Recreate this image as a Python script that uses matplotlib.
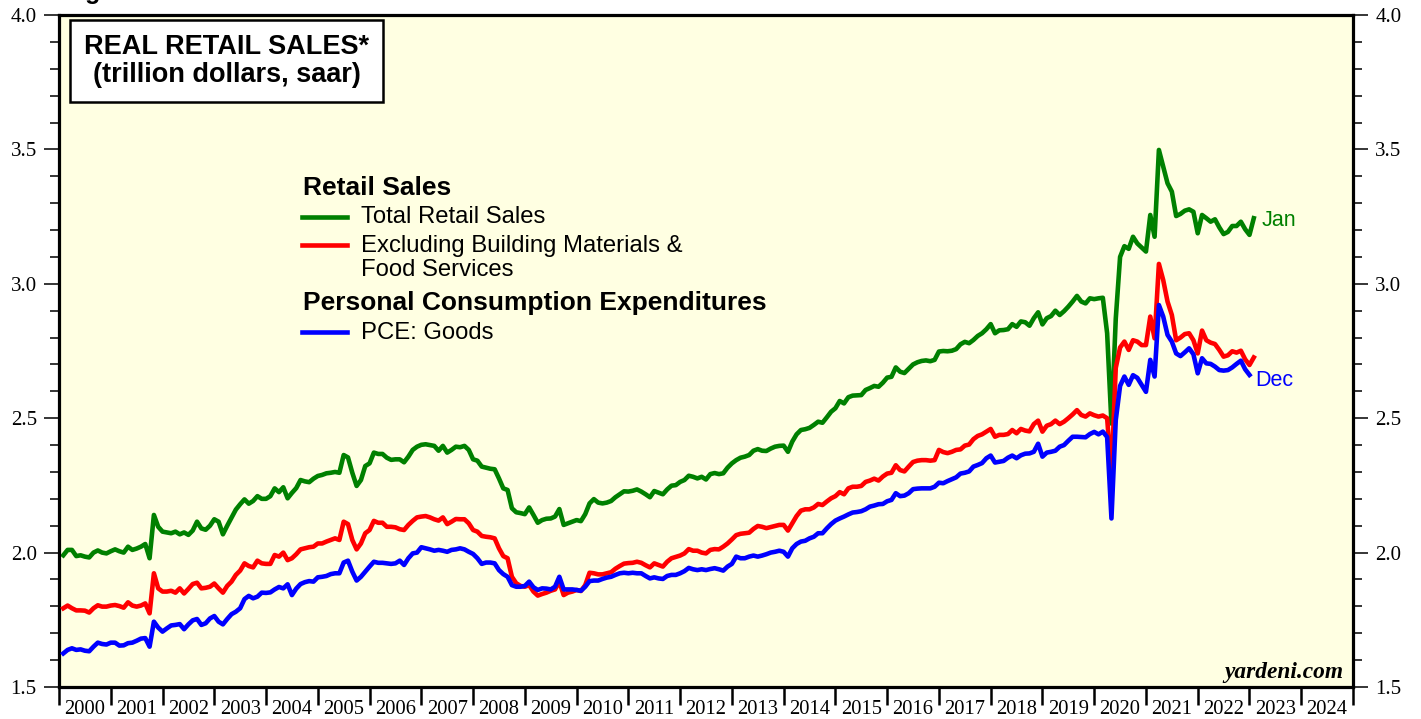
import matplotlib
matplotlib.use('Agg')
import matplotlib.pyplot as plt
from matplotlib.ticker import MultipleLocator, FixedLocator, NullFormatter, FormatStrFormatter
from matplotlib.patches import Rectangle
from matplotlib.lines import Line2D

plt.rcParams['font.family'] = ['Liberation Serif', 'DejaVu Serif']

# ---------------- data (trillion dollars, saar), monthly from Jan 2000 ----------------
start_year = 2000
year_labels = [str(y) for y in range(2000, 2025)]

total_retail = [
    1.990, 2.010, 2.010, 1.987, 1.990, 1.985, 1.982, 2.000, 2.008, 2.000, 1.997, 2.005,  # 2000
    2.012, 2.005, 2.000, 2.022, 2.010, 2.015, 2.022, 2.032, 1.979, 2.140, 2.096, 2.078,  # 2001
    2.075, 2.072, 2.078, 2.068, 2.075, 2.066, 2.082, 2.115, 2.090, 2.085, 2.100, 2.124,  # 2002
    2.115, 2.068, 2.100, 2.130, 2.160, 2.180, 2.198, 2.182, 2.192, 2.210, 2.200, 2.200,  # 2003
    2.210, 2.239, 2.225, 2.243, 2.202, 2.222, 2.240, 2.270, 2.265, 2.262, 2.275, 2.285,  # 2004
    2.289, 2.295, 2.297, 2.300, 2.297, 2.363, 2.354, 2.297, 2.248, 2.270, 2.322, 2.332,  # 2005
    2.372, 2.367, 2.367, 2.353, 2.345, 2.347, 2.347, 2.336, 2.357, 2.382, 2.394, 2.401,  # 2006
    2.403, 2.400, 2.397, 2.379, 2.397, 2.372, 2.382, 2.394, 2.392, 2.397, 2.382, 2.347,  # 2007
    2.342, 2.320, 2.316, 2.312, 2.310, 2.276, 2.239, 2.233, 2.165, 2.150, 2.147, 2.143,  # 2008
    2.168, 2.140, 2.111, 2.121, 2.126, 2.127, 2.134, 2.162, 2.103, 2.109, 2.115, 2.121,  # 2009
    2.117, 2.143, 2.183, 2.199, 2.186, 2.183, 2.186, 2.192, 2.206, 2.217, 2.228, 2.227,  # 2010
    2.230, 2.235, 2.227, 2.217, 2.206, 2.229, 2.223, 2.217, 2.235, 2.249, 2.251, 2.263,  # 2011
    2.270, 2.286, 2.282, 2.276, 2.282, 2.272, 2.292, 2.296, 2.292, 2.295, 2.316, 2.332,  # 2012
    2.344, 2.353, 2.357, 2.363, 2.379, 2.385, 2.379, 2.378, 2.387, 2.394, 2.397, 2.398,  # 2013
    2.375, 2.413, 2.440, 2.456, 2.459, 2.464, 2.475, 2.487, 2.483, 2.503, 2.524, 2.537,  # 2014
    2.564, 2.555, 2.578, 2.584, 2.585, 2.586, 2.605, 2.612, 2.620, 2.617, 2.632, 2.651,  # 2015
    2.654, 2.689, 2.673, 2.668, 2.684, 2.700, 2.708, 2.713, 2.715, 2.712, 2.717, 2.748,  # 2016
    2.750, 2.749, 2.751, 2.757, 2.775, 2.784, 2.779, 2.791, 2.806, 2.816, 2.831, 2.850,  # 2017
    2.816, 2.827, 2.828, 2.831, 2.850, 2.840, 2.860, 2.857, 2.844, 2.872, 2.894, 2.849,  # 2018
    2.872, 2.880, 2.900, 2.884, 2.898, 2.915, 2.934, 2.955, 2.934, 2.927, 2.946, 2.943,  # 2019
    2.946, 2.948, 2.816, 2.480, 2.870, 3.100, 3.140, 3.130, 3.175, 3.150, 3.135, 3.120,  # 2020
    3.256, 3.175, 3.498, 3.436, 3.374, 3.343, 3.252, 3.260, 3.272, 3.277, 3.268, 3.188,  # 2021
    3.256, 3.244, 3.231, 3.240, 3.210, 3.185, 3.193, 3.215, 3.215, 3.231, 3.203, 3.182,  # 2022
    3.244,                                                                               # 2023
]

ex_building_food = [
    1.793, 1.803, 1.793, 1.785, 1.785, 1.784, 1.777, 1.793, 1.804, 1.799, 1.799, 1.803,  # 2000
    1.805, 1.801, 1.795, 1.815, 1.803, 1.799, 1.803, 1.811, 1.774, 1.923, 1.867, 1.855,  # 2001
    1.855, 1.858, 1.851, 1.867, 1.848, 1.865, 1.883, 1.888, 1.867, 1.869, 1.873, 1.885,  # 2002
    1.867, 1.851, 1.876, 1.892, 1.917, 1.933, 1.960, 1.950, 1.945, 1.970, 1.960, 1.958,  # 2003
    1.958, 1.991, 1.985, 2.000, 1.972, 1.979, 1.994, 2.012, 2.016, 2.020, 2.022, 2.034,  # 2004
    2.034, 2.041, 2.047, 2.053, 2.047, 2.115, 2.106, 2.047, 2.012, 2.034, 2.072, 2.084,  # 2005
    2.118, 2.111, 2.111, 2.096, 2.096, 2.094, 2.087, 2.084, 2.103, 2.118, 2.131, 2.134,  # 2006
    2.136, 2.131, 2.124, 2.119, 2.131, 2.106, 2.115, 2.125, 2.124, 2.124, 2.109, 2.084,  # 2007
    2.078, 2.062, 2.059, 2.057, 2.053, 2.016, 1.987, 1.979, 1.910, 1.886, 1.876, 1.873,  # 2008
    1.879, 1.855, 1.840, 1.846, 1.851, 1.858, 1.863, 1.892, 1.842, 1.851, 1.855, 1.861,  # 2009
    1.857, 1.879, 1.925, 1.923, 1.919, 1.919, 1.923, 1.927, 1.940, 1.950, 1.959, 1.961,  # 2010
    1.962, 1.966, 1.962, 1.953, 1.945, 1.960, 1.954, 1.948, 1.966, 1.979, 1.984, 1.989,  # 2011
    1.997, 2.013, 2.007, 2.007, 2.000, 1.997, 2.010, 2.013, 2.012, 2.022, 2.034, 2.049,  # 2012
    2.065, 2.070, 2.072, 2.074, 2.088, 2.099, 2.096, 2.091, 2.095, 2.099, 2.103, 2.103,  # 2013
    2.082, 2.109, 2.136, 2.156, 2.161, 2.161, 2.168, 2.181, 2.177, 2.190, 2.202, 2.210,  # 2014
    2.225, 2.217, 2.239, 2.245, 2.245, 2.248, 2.263, 2.268, 2.275, 2.268, 2.283, 2.294,  # 2015
    2.297, 2.325, 2.307, 2.302, 2.320, 2.337, 2.342, 2.344, 2.344, 2.342, 2.344, 2.382,  # 2016
    2.374, 2.370, 2.375, 2.382, 2.384, 2.398, 2.402, 2.422, 2.434, 2.440, 2.450, 2.460,  # 2017
    2.431, 2.438, 2.438, 2.441, 2.456, 2.444, 2.460, 2.454, 2.451, 2.478, 2.491, 2.450,  # 2018
    2.472, 2.478, 2.491, 2.478, 2.487, 2.500, 2.514, 2.530, 2.512, 2.506, 2.518, 2.511,  # 2019
    2.506, 2.510, 2.500, 2.290, 2.687, 2.763, 2.785, 2.754, 2.790, 2.785, 2.772, 2.772,  # 2020
    2.878, 2.797, 3.074, 3.014, 2.934, 2.884, 2.790, 2.800, 2.813, 2.816, 2.790, 2.741,  # 2021
    2.826, 2.790, 2.781, 2.776, 2.754, 2.729, 2.734, 2.749, 2.744, 2.751, 2.719, 2.698,  # 2022
    2.726,                                                                               # 2023
]

pce_goods = [
    1.625, 1.638, 1.644, 1.638, 1.640, 1.635, 1.633, 1.650, 1.665, 1.660, 1.658, 1.665,  # 2000
    1.665, 1.654, 1.655, 1.663, 1.665, 1.672, 1.680, 1.682, 1.650, 1.743, 1.721, 1.706,  # 2001
    1.718, 1.729, 1.731, 1.734, 1.715, 1.733, 1.748, 1.753, 1.731, 1.737, 1.755, 1.764,  # 2002
    1.743, 1.733, 1.753, 1.771, 1.780, 1.793, 1.827, 1.839, 1.830, 1.836, 1.851, 1.850,  # 2003
    1.852, 1.863, 1.872, 1.867, 1.882, 1.842, 1.866, 1.883, 1.890, 1.894, 1.892, 1.908,  # 2004
    1.910, 1.913, 1.920, 1.923, 1.923, 1.963, 1.970, 1.929, 1.896, 1.910, 1.929, 1.948,  # 2005
    1.966, 1.962, 1.962, 1.960, 1.958, 1.960, 1.970, 1.954, 1.979, 1.997, 2.000, 2.020,  # 2006
    2.016, 2.012, 2.007, 2.010, 2.007, 2.003, 2.010, 2.012, 2.016, 2.012, 2.003, 1.995,  # 2007
    1.979, 1.958, 1.963, 1.963, 1.960, 1.935, 1.920, 1.910, 1.879, 1.873, 1.873, 1.876,  # 2008
    1.892, 1.871, 1.861, 1.867, 1.866, 1.863, 1.873, 1.910, 1.863, 1.863, 1.863, 1.861,  # 2009
    1.858, 1.873, 1.894, 1.896, 1.896, 1.902, 1.907, 1.910, 1.917, 1.923, 1.925, 1.923,  # 2010
    1.925, 1.923, 1.923, 1.913, 1.904, 1.908, 1.904, 1.902, 1.913, 1.917, 1.917, 1.923,  # 2011
    1.931, 1.943, 1.938, 1.935, 1.938, 1.935, 1.939, 1.942, 1.938, 1.933, 1.948, 1.958,  # 2012
    1.985, 1.979, 1.979, 1.985, 1.989, 1.985, 1.989, 1.994, 2.000, 2.003, 2.007, 2.003,  # 2013
    1.985, 2.016, 2.032, 2.041, 2.044, 2.053, 2.059, 2.072, 2.072, 2.090, 2.106, 2.119,  # 2014
    2.127, 2.134, 2.142, 2.149, 2.151, 2.154, 2.161, 2.171, 2.175, 2.180, 2.181, 2.191,  # 2015
    2.196, 2.221, 2.210, 2.212, 2.221, 2.236, 2.238, 2.239, 2.239, 2.239, 2.245, 2.260,  # 2016
    2.258, 2.266, 2.273, 2.280, 2.294, 2.297, 2.302, 2.320, 2.326, 2.333, 2.351, 2.361,  # 2017
    2.335, 2.338, 2.341, 2.353, 2.361, 2.351, 2.362, 2.368, 2.369, 2.375, 2.405, 2.357,  # 2018
    2.372, 2.375, 2.379, 2.394, 2.400, 2.416, 2.431, 2.431, 2.430, 2.429, 2.441, 2.449,  # 2019
    2.440, 2.450, 2.430, 2.127, 2.493, 2.620, 2.655, 2.624, 2.660, 2.650, 2.624, 2.598,  # 2020
    2.717, 2.655, 2.921, 2.878, 2.810, 2.785, 2.741, 2.731, 2.745, 2.760, 2.738, 2.667,  # 2021
    2.723, 2.704, 2.702, 2.692, 2.679, 2.677, 2.679, 2.689, 2.702, 2.714, 2.682, 2.661,  # 2022
]

series_names = ["Total Retail Sales", "Excluding Building Materials &", "Food Services", "PCE: Goods"]
series_colors = ["#008000", "#FF0000", "#0000FF"]
end_labels = ["Jan", "Dec"]


def month_positions(n):
    # each monthly observation is plotted at the end of its month
    return [start_year + (i + 1) / 12.0 for i in range(n)]


W, H = 1421, 719
fig = plt.figure(figsize=(W / 100, H / 100), dpi=100)
fig.patch.set_facecolor('white')


def fx(px):
    return px / W


def fy(py):
    return 1 - py / H


ax = fig.add_axes([fx(59), fy(687), fx(1353) - fx(59), fy(15) - fy(687)])
ax.set_facecolor('#FFFFE2')

x_red = month_positions(len(ex_building_food))
x_green = month_positions(len(total_retail))
x_blue = month_positions(len(pce_goods))
LW = 3.3
ax.plot(x_red, ex_building_food, color=series_colors[1], lw=LW, zorder=3)
ax.plot(x_blue, pce_goods, color=series_colors[2], lw=LW, zorder=4)
ax.plot(x_green, total_retail, color=series_colors[0], lw=LW, zorder=2)

ax.set_xlim(2000, 2025)
ax.set_ylim(1.5, 4.0)

# x axis: ticks at year boundaries, labels centred in each year
ax.xaxis.set_major_locator(FixedLocator(list(range(2000, 2026))))
ax.xaxis.set_major_formatter(NullFormatter())
ax.xaxis.set_minor_locator(FixedLocator([int(y) + 0.5 for y in year_labels]))
ax.set_xticklabels(year_labels, minor=True)
ax.tick_params(axis='x', which='major', length=13, width=1.8, direction='out', color='black')
ax.tick_params(axis='x', which='minor', length=0, pad=9.5, labelsize=14.8)

# y axis on both sides
ax.yaxis.set_major_locator(MultipleLocator(0.5))
ax.yaxis.set_minor_locator(MultipleLocator(0.1))
ax.yaxis.set_major_formatter(FormatStrFormatter('%.1f'))
ax.tick_params(axis='y', which='both', left=True, right=True, labelleft=True,
               labelright=True, direction='out')
ax.tick_params(axis='y', which='major', length=11, width=1.1, labelsize=15, pad=5)
ax.tick_params(axis='y', which='minor', length=6.5, width=1.1)

for s in ax.spines.values():
    s.set_linewidth(2.3)

# title box
fig.patches.append(Rectangle((fx(70), fy(102)), fx(383) - fx(70), fy(20) - fy(102),
                             transform=fig.transFigure, facecolor='white',
                             edgecolor='black', lw=1.8, zorder=5))
sans = ['Liberation Sans', 'DejaVu Sans']
fig.text(fx(227), fy(47), "REAL RETAIL SALES*", ha='center', va='center',
         fontsize=19.5, fontweight='bold', family=sans, zorder=6)
fig.text(fx(227), fy(75), "(trillion dollars, saar)", ha='center', va='center',
         fontsize=19.5, fontweight='bold', family=sans, zorder=6)

# partially cut figure caption at the very top
fig.text(fx(63), 1 + 1.0 / H, "Fig", ha='left', va='baseline', fontsize=18,
         fontweight='bold', family=sans)

# legend (custom)
fig.text(fx(303), fy(188), "Retail Sales", ha='left', va='center', fontsize=19,
         fontweight='bold', family=sans)
fig.text(fx(303), fy(303), "Personal Consumption Expenditures", ha='left', va='center',
         fontsize=19, fontweight='bold', family=sans)
legend_lines = [(217, series_colors[0]), (245, series_colors[1]), (332, series_colors[2])]
for ly, col in legend_lines:
    fig.add_artist(Line2D([fx(302), fx(347)], [fy(ly), fy(ly)], color=col, lw=LW,
                          transform=fig.transFigure))
legend_texts = [(217, series_names[0]), (246, series_names[1]), (270, series_names[2]),
                (333, series_names[3])]
for ty, name in legend_texts:
    fig.text(fx(361), fy(ty), name, ha='left', va='center', fontsize=17.2, family=sans)

# end-of-series labels
ax.text(x_green[-1] + 0.15, total_retail[-1] - 0.01, end_labels[0], color=series_colors[0],
        ha='left', va='center', fontsize=15.5, family=sans)
ax.text(x_blue[-1] + 0.12, pce_goods[-1] - 0.02, end_labels[1], color=series_colors[2],
        ha='left', va='center', fontsize=15.5, family=sans)

# source
fig.text(fx(1343), fy(678), "yardeni.com", ha='right', va='baseline', fontsize=16.8,
         fontweight='bold', style='italic', family=['Liberation Serif', 'DejaVu Serif'])

fig.savefig('out.png', dpi=100)
